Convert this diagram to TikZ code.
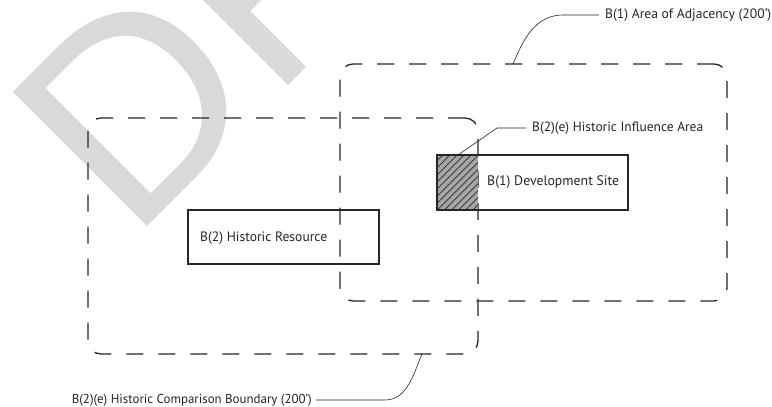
\documentclass[tikz,border=0pt]{standalone}
\usepackage{fontspec}
\setmainfont{PT Sans}
\newfontfamily\wmfont{Liberation Sans}
\usetikzlibrary{patterns.meta}
\definecolor{ink}{HTML}{262626}
\definecolor{wmgray}{HTML}{D9D9D9}
\definecolor{hatchfill}{HTML}{A6A6A6}
\newcommand{\fitlbl}[2]{\resizebox{#1}{!}{\fontsize{12}{14}\selectfont\strut #2}}
\tikzset{
  zone/.style={draw=ink, line width=1.3pt, dash pattern=on 17pt off 15pt, rounded corners=13pt, inner sep=0pt},
  sitebox/.style={draw=ink, line width=1.6pt, inner sep=0pt},
  lbl/.style={text=ink, inner sep=0pt},
  leader/.style={draw=ink, line width=0.6pt},
}
\begin{document}
\begin{tikzpicture}[x=1pt,y=-1pt]
\useasboundingbox (0,0) rectangle (772,407);
\fill[white] (0,0) rectangle (772,407);
% watermark
\begin{scope}
\clip (0,0) rectangle (772,407);
\node[rotate=45, anchor=base west, text=wmgray, inner sep=0pt,
      font=\fontsize{276}{276}\selectfont\wmfont] (wm) at (131,243) {DRAFT};
\end{scope}
% zones
\node[zone, minimum width=387pt, minimum height=237pt] (adjzone) at (533.5,182.5) {};
\node[zone, minimum width=390pt, minimum height=236pt] (cmpzone) at (283,236) {};
% development site with hatched influence area
\fill[hatchfill] (437,155) rectangle (478,210);
\fill[pattern={Lines[angle=45,distance=5pt,line width=0.7pt]}, pattern color=ink] (437,155) rectangle (478,210);
\node[sitebox, minimum width=191pt, minimum height=55pt] (dev) at (532.5,182.5) {};
\node[lbl, anchor=west] (devlbl) at (487,182.5) {\fitlbl{132pt}{B(1) Development Site}};
% historic resource
\node[sitebox, minimum width=191pt, minimum height=54pt] (res) at (283.5,237) {};
\node[lbl, anchor=west] (reslbl) at (200,238) {\fitlbl{127pt}{B(2) Historic Resource}};
% labels and leaders
\node[lbl, anchor=west] (adjlbl) at (605,15) {\fitlbl{166pt}{B(1) Area of Adjacency (200’)}};
\coordinate (adjpt) at (513,64);
\draw[leader] ([xshift=-6pt]adjlbl.west) -- (563,15) .. controls (535,15) and (523,40) .. (adjpt);
\node[lbl, anchor=west] (infllbl) at (532,128) {\fitlbl{171pt}{B(2)(e) Historic Influence Area}};
\coordinate (inflpt) at (458,155);
\coordinate (inflbend) at (497,128);
\draw[leader] ([xshift=-6pt]infllbl.west) -- (inflbend) -- (inflpt);
\node[lbl, anchor=east] (cmplbl) at (312,400) {\fitlbl{240pt}{B(2)(e) Historic Comparison Boundary (200’)}};
\coordinate (cmppt) at (422,354);
\draw[leader] ([xshift=4pt]cmplbl.east) -- (385,400) .. controls (408,400) and (414,372) .. (cmppt);
\end{tikzpicture}
\end{document}
